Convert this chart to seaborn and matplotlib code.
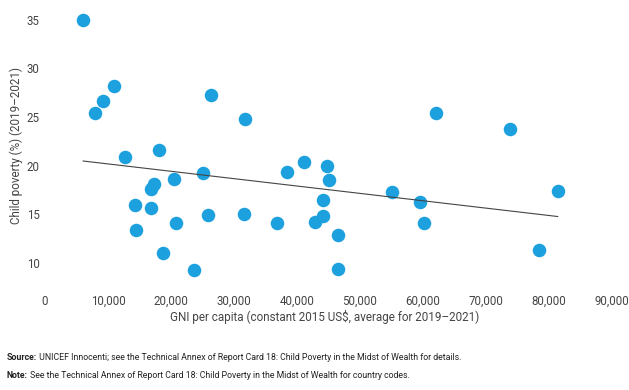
import numpy as np
import pandas as pd
import matplotlib.pyplot as plt
import seaborn as sns
from matplotlib import font_manager

# GNI per capita (constant 2015 US$) and child poverty rate (%)
gni = [6030, 7940, 9210, 10950, 12700, 14300, 14500, 16800, 16800, 17300,
       18100, 18700, 20480, 20800, 23600, 25100, 25900, 26400, 31600, 31700,
       36800, 38400, 41100, 42800, 44100, 44100, 44700, 45100, 46500, 46500,
       55100, 59500, 60200, 62000, 73800, 78400, 81400]
poverty = [35.0, 25.4, 26.6, 28.2, 20.9, 15.9, 13.4, 15.6, 17.6, 18.1,
           21.6, 11.0, 18.6, 14.1, 9.3, 19.2, 14.9, 27.3, 15.0, 24.8,
           14.1, 19.3, 20.4, 14.2, 16.5, 14.8, 20.0, 18.5, 12.9, 9.4,
           17.3, 16.3, 14.1, 25.4, 23.8, 11.3, 17.4]
x_ticks = [0, 10000, 20000, 30000, 40000, 50000, 60000, 70000, 80000, 90000]
y_ticks = [10, 15, 20, 25, 30, 35]

df = pd.DataFrame({'gni': gni, 'poverty': poverty})

sns.set_theme(style="white")
plt.rcParams['font.family'] = ['Roboto', 'DejaVu Sans']

# narrow font for the footer if available
names = {f.name for f in font_manager.fontManager.ttflist}
foot_font = ['Liberation Sans Narrow', 'Roboto'] if 'Liberation Sans Narrow' in names else ['Roboto']
foot_size = 7.5 if 'Liberation Sans Narrow' in names else 6.3

fig = plt.figure(figsize=(6.29, 3.9), dpi=100)
ax = fig.add_axes([45 / 629, (390 - 292) / 390, 567 / 629, 282 / 390])

sns.regplot(data=df, x='gni', y='poverty', ci=None, ax=ax,
            scatter_kws={'s': 95, 'color': '#1da1de', 'alpha': 1, 'linewidths': 0},
            line_kws={'color': '#444444', 'lw': 0.8})

ax.set_xlim(0, 90000)
ax.set_ylim(7, 36)
ax.set_xticks(x_ticks)
ax.set_xticklabels([f'{t:,}' for t in x_ticks])
ax.set_yticks(y_ticks)
ax.tick_params(axis='both', length=0, labelsize=8.3, labelcolor='#444444')
ax.tick_params(axis='x', pad=2)
ax.tick_params(axis='y', pad=4)
for s in ax.spines.values():
    s.set_visible(False)

ax.set_xlabel('')
ax.set_ylabel('')
fig.text(325 / 629, 1 - 317 / 390, 'GNI per capita (constant 2015 US$, average for 2019\u20132021)',
         fontsize=8.4, color='#444444', ha='center', va='center')
fig.text(16 / 629, 1 - 146 / 390, 'Child poverty (%) (2019\u20132021)',
         fontsize=8.4, color='#444444', ha='center', va='center', rotation=90)

# footer notes
fig.canvas.draw()
r = fig.canvas.get_renderer()
for yy, bold, rest in [(357, 'Source:', ' UNICEF Innocenti; see the Technical Annex of Report Card 18: Child Poverty in the Midst of Wealth for details.'),
                       (376, 'Note:', ' See the Technical Annex of Report Card 18: Child Poverty in the Midst of Wealth for country codes.')]:
    t = fig.text(7 / 629, 1 - yy / 390, bold, fontsize=foot_size, fontweight='bold',
                 color='#222222', va='center', family=foot_font)
    bb = t.get_window_extent(r)
    fig.text(bb.x1 / fig.bbox.width, 1 - yy / 390, rest, fontsize=foot_size,
             color='#222222', va='center', family=foot_font)

fig.savefig('out.png', dpi=100)
